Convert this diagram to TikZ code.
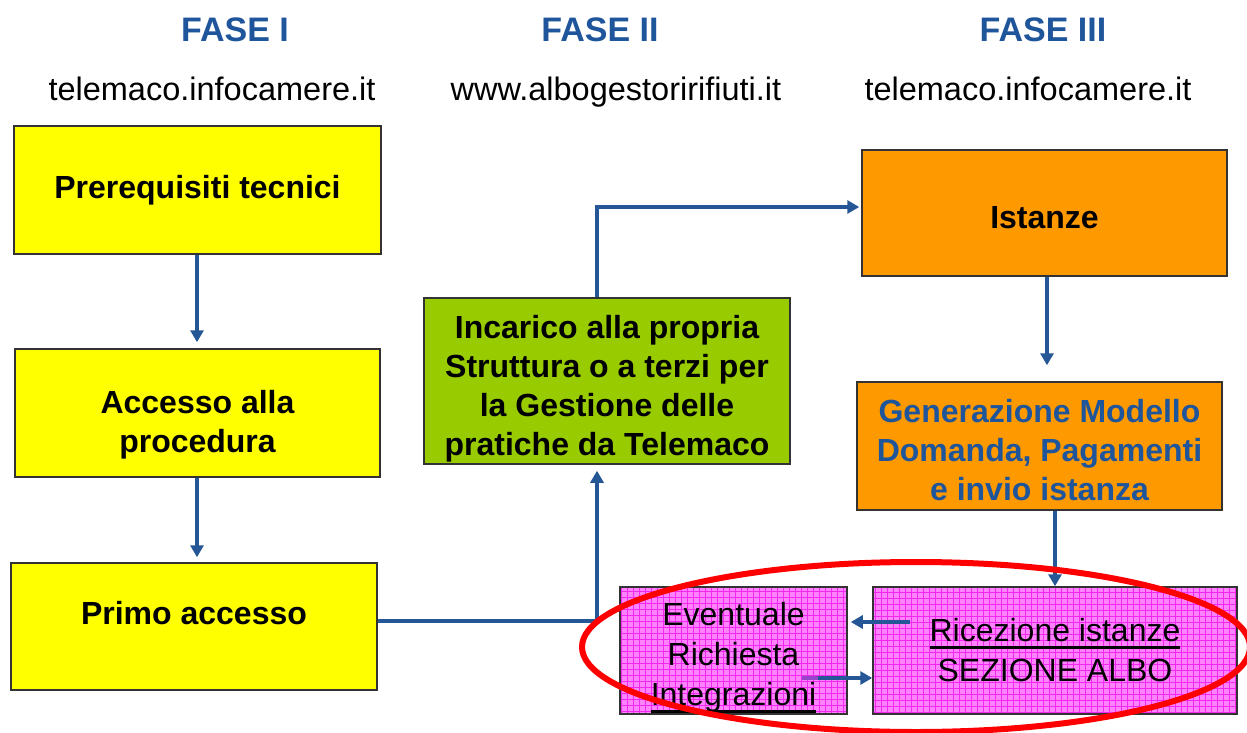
\documentclass[tikz,border=0pt]{standalone}
\usepackage{fontspec}
\setmainfont{Liberation Sans}
\usetikzlibrary{arrows.meta}

\definecolor{faseblue}{RGB}{31,85,155}
\definecolor{arrblue}{RGB}{37,87,150}
\definecolor{boxyellow}{RGB}{255,255,0}
\definecolor{boxgreen}{RGB}{153,204,0}
\definecolor{boxorange}{RGB}{255,153,0}
\definecolor{boxpink}{RGB}{255,130,255}
\definecolor{gridpink}{RGB}{240,40,240}
\definecolor{tailpurple}{RGB}{150,70,200}

% thick underline as in the slide
\newcommand{\ulbar}[1]{\leavevmode\setbox0\hbox{#1}\rlap{\rule[-7pt]{\wd0}{2.5pt}}\box0}

\tikzset{
  head/.style={anchor=base, text=faseblue, font=\fontsize{34}{40}\selectfont\bfseries},
  site/.style={anchor=base, font=\fontsize{32.5}{38}\selectfont},
  box/.style={draw=black!80, line width=1.5pt, inner sep=0pt, align=center,
    font=\fontsize{32}{39}\selectfont\bfseries},
  pinkbox/.style={draw=black!80, line width=1.5pt, inner sep=0pt, align=center,
    fill=boxpink, font=\fontsize{32}{40}\selectfont,
    path picture={\draw[gridpink, line width=0.5pt, step=6pt]
      (path picture bounding box.south west) grid (path picture bounding box.north east);}},
  drop/.style={execute at begin node={\rule{0pt}{#1}}},
  lift/.style={execute at end node={\rule[-#1]{0pt}{0pt}}},
  link/.style={arrblue, line width=4pt, -{Triangle[length=12pt,width=13pt]}},
}

\begin{document}
\begin{tikzpicture}[x=1pt,y=-1pt]
  \useasboundingbox (0,0) rectangle (1247,733);

  \node[head] (fase1) at (235,42) {FASE I};
  \node[head] (fase2) at (600,42) {FASE II};
  \node[head] (fase3) at (1043,42) {FASE III};
  \node[site] (site1) at (212,101) {telemaco.infocamere.it};
  \node[site] (site2) at (616,101) {www.albogestoririfiuti.it};
  \node[site] (site3) at (1028,101) {telemaco.infocamere.it};

  \node[box, fill=boxyellow, minimum width=367, minimum height=128]
    (prereq) at (197.5,190) {Prerequisiti tecnici};
  \node[box, fill=boxyellow, drop=86pt, minimum width=365, minimum height=128]
    (accesso) at (197.5,413) {Accesso alla\\procedura};
  \node[box, fill=boxyellow, lift=27pt, minimum width=366, minimum height=127]
    (primo) at (194,626.5) {Primo accesso};
  \node[box, fill=boxgreen, drop=155pt, minimum width=366, minimum height=166]
    (incarico) at (607,381) {Incarico alla propria\\Struttura o a terzi per\\la Gestione delle\\pratiche da Telemaco};
  \node[box, fill=boxorange, drop=31.5pt, minimum width=365, minimum height=126]
    (istanze) at (1044.5,213) {Istanze};
  \node[box, fill=boxorange, text=faseblue, drop=109.5pt, minimum width=365, minimum height=128]
    (generazione) at (1039.5,446) {Generazione Modello\\Domanda, Pagamenti\\e invio istanza};
  \node[pinkbox, drop=117pt, minimum width=227, minimum height=127]
    (eventuale) at (733.5,650.5) {Eventuale\\Richiesta\\\ulbar{Integrazioni}};
  \node[pinkbox, minimum width=364, minimum height=127]
    (ricezione) at (1055,650.5) {\ulbar{Ricezione istanze}\\SEZIONE ALBO};

  \coordinate (col) at (197,0);
  \coordinate (bend1) at (597,621);
  \coordinate (bend2) at (597,207);
  \coordinate (fall) at (1047,0);
  \coordinate (back) at (910,622);
  \coordinate (fwd) at (802,678);

  \draw[link, shorten >=6pt] (col |- prereq.south) -- (col |- accesso.north);
  \draw[link, shorten >=5pt] (col |- accesso.south) -- (col |- primo.north);
  \draw[link, shorten >=6pt] (primo.east |- bend1)
  -- (bend1)
  -- (bend1 |- incarico.south);
  \draw[link, shorten >=2pt] (bend2 |- incarico.north)
  -- (bend2)
  -- (bend2 -| istanze.west);
  \draw[link, shorten >=16pt] (fall |- istanze.south) -- (fall |- generazione.north);
  \draw[link] (ricezione.north |- generazione.south) -- (ricezione.north);
  \draw[link, shorten >=3pt] (back) -- (back -| eventuale.east);
  \draw[link] (fwd) -- (fwd -| ricezione.west);
  \draw[tailpurple, line width=4pt] (fwd) -- ++(16,0);

  \draw[red, line width=6pt] (916,647) ellipse [x radius=334, y radius=85];
\end{tikzpicture}
\end{document}
